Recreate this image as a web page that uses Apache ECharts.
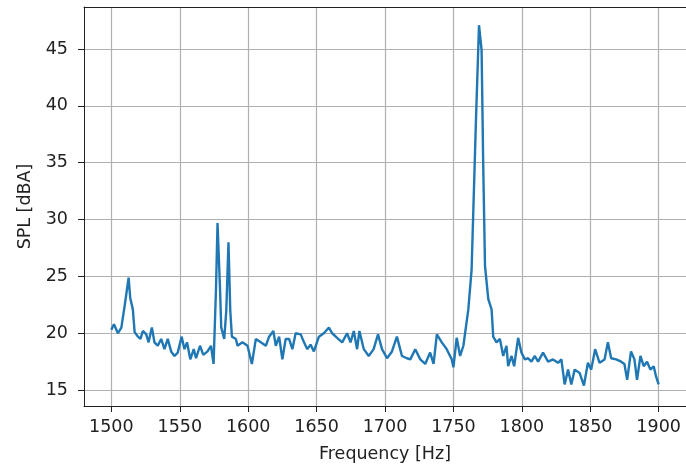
<!DOCTYPE html>
<html>
<head>
<meta charset="utf-8">
<script src="https://cdn.jsdelivr.net/npm/echarts@6/dist/echarts.min.js"></script>
<style>
  html, body { margin: 0; padding: 0; background: #fff; }
  #chart { width: 686px; height: 468px; }
</style>
</head>
<body>
<div id="chart"></div>
<script>
// values
var freqHz = [
  1500, 1501.9, 1504.8, 1507.3, 1509.7, 1512.6, 1513.8, 1515.7, 1517, 1519.4,
  1521.3, 1523, 1525.5, 1527.2, 1529.6, 1531.5, 1533.9, 1536.4, 1538.8, 1541.2,
  1543.7, 1546.1, 1548.5, 1551.4, 1553.4, 1555.3, 1557.7, 1560.2, 1561.9, 1564.8,
  1567.2, 1570.3, 1572.8, 1574.7, 1576.5, 1577.6, 1579.4, 1580.3, 1582.5, 1584,
  1585.6, 1586.9, 1588.1, 1591, 1592.2, 1595.8, 1599.5, 1602.7, 1605.6, 1609.2,
  1612.9, 1615.3, 1618.4, 1620.2, 1622.6, 1625, 1627.4, 1629.9, 1632.3, 1634.7,
  1638.4, 1640.8, 1643.2, 1645.6, 1648, 1651.7, 1655.3, 1659, 1661.4, 1665,
  1668.7, 1672.3, 1674.8, 1677.2, 1679.6, 1681.3, 1684.5, 1688.1, 1691.7, 1694.9,
  1697.8, 1701.5, 1705.1, 1708.7, 1712.4, 1716, 1718.5, 1722.1, 1725.8, 1729.4,
  1733, 1735.5, 1737.9, 1741.5, 1745.1, 1748.8, 1750, 1752.4, 1754.9, 1757.3,
  1760.9, 1763.3, 1766.3, 1768.7, 1770.6, 1771.8, 1773.1, 1775.5, 1777.9, 1779.1,
  1781.5, 1784, 1786.4, 1788.8, 1790, 1792.5, 1794.4, 1797.3, 1799.7, 1802.2,
  1804.6, 1807, 1809.5, 1811.9, 1815.5, 1819.2, 1822.8, 1826.5, 1828.9, 1831.3,
  1833.8, 1836.2, 1838.6, 1842.3, 1845.4, 1848.3, 1850.7, 1853.6, 1856.8, 1860.5,
  1862.9, 1865.3, 1869, 1872.6, 1875, 1877, 1879.8, 1882.3, 1884.2, 1886.7,
  1889.1, 1891.5, 1894, 1896.4, 1898.1, 1900
];
var splDb = [
  20.3, 20.8, 20.0, 20.5, 22.4, 24.9, 23.1, 22.1, 20.1, 19.7,
  19.5, 20.2, 19.9, 19.2, 20.5, 19.2, 18.9, 19.5, 18.6, 19.5,
  18.4, 18.0, 18.3, 19.7, 18.6, 19.2, 17.7, 18.6, 17.8, 18.9,
  18.1, 18.4, 18.9, 17.3, 24.0, 29.7, 24.0, 20.5, 19.5, 22.0,
  28.0, 22.0, 19.7, 19.5, 18.9, 19.2, 18.9, 17.3, 19.5, 19.2,
  18.9, 19.7, 20.2, 18.9, 19.7, 17.7, 19.5, 19.5, 18.6, 20.0,
  19.9, 19.2, 18.6, 19.0, 18.4, 19.7, 20.0, 20.5, 20.0, 19.6,
  19.2, 20.0, 19.2, 20.2, 18.6, 20.2, 18.6, 18.0, 18.6, 19.9,
  18.6, 17.8, 18.4, 19.7, 18.0, 17.8, 17.7, 18.6, 17.7, 17.3,
  18.3, 17.3, 19.9, 19.2, 18.6, 17.7, 17.0, 19.6, 18.0, 18.9,
  22.1, 25.6, 38.0, 47.1, 44.9, 34.7, 25.9, 23.0, 22.1, 19.7,
  19.2, 19.5, 18.0, 18.9, 17.1, 18.0, 17.1, 19.6, 18.3, 17.7,
  17.8, 17.5, 18.0, 17.5, 18.3, 17.5, 17.7, 17.4, 17.7, 15.5,
  16.8, 15.5, 16.8, 16.5, 15.4, 17.4, 16.8, 18.6, 17.4, 17.7,
  19.2, 17.8, 17.7, 17.5, 17.3, 15.9, 18.4, 17.7, 15.9, 18.0,
  17.1, 17.5, 16.8, 17.1, 16.2, 15.5
];
var xTicks = [1500, 1550, 1600, 1650, 1700, 1750, 1800, 1850, 1900];
var yTicks = [15, 20, 25, 30, 35, 40, 45];

var points = freqHz.map(function (f, i) { return [f, splDb[i]]; });

var font = "DejaVu Sans";
var chart = echarts.init(document.getElementById("chart"));
chart.setOption({
  animation: false,
  grid: { left: 84, top: 7, width: 604, height: 400, containLabel: false },
  xAxis: [
    {
      type: "value",
      min: 1480,
      max: 1920,
      name: "Frequency [Hz]",
      nameLocation: "middle",
      nameGap: 39,
      nameTextStyle: { fontFamily: font, fontSize: 17.5, color: "#222" },
      axisLine: { show: true, onZero: false, lineStyle: { color: "#222", width: 1 } },
      axisTick: { show: true, customValues: xTicks, length: 6, lineStyle: { color: "#222" } },
      axisLabel: {
        customValues: xTicks,
        margin: 12,
        fontFamily: font,
        fontSize: 17.5,
        color: "#222",
        formatter: function (v) { return String(v); }
      },
      splitLine: { show: true, lineStyle: { color: "#b0b0b0", width: 1.2 } }
    },
    {
      // top frame line
      type: "value",
      position: "top",
      min: 1480,
      max: 1920,
      axisLine: { show: true, onZero: false, lineStyle: { color: "#222", width: 1 } },
      axisTick: { show: false },
      axisLabel: { show: false },
      splitLine: { show: false }
    }
  ],
  yAxis: {
    type: "value",
    min: 13.6,
    max: 48.7,
    name: "SPL [dBA]",
    nameLocation: "middle",
    nameRotate: 90,
    nameGap: 50,
    nameTextStyle: { fontFamily: font, fontSize: 17.5, color: "#222" },
    axisLine: { show: true, onZero: false, lineStyle: { color: "#222", width: 1 } },
    axisTick: { show: true, customValues: yTicks, length: 6, lineStyle: { color: "#222" } },
    axisLabel: {
      customValues: yTicks,
      margin: 16,
      fontFamily: font,
      fontSize: 17.5,
      color: "#222",
      formatter: function (v) { return String(v); }
    },
    splitLine: { show: true, lineStyle: { color: "#b0b0b0", width: 1.2 } }
  },
  series: [
    {
      type: "line",
      data: points,
      showSymbol: false,
      lineStyle: { color: "#1f77b4", width: 2.4 },
      itemStyle: { color: "#1f77b4" }
    }
  ]
});
</script>
</body>
</html>
